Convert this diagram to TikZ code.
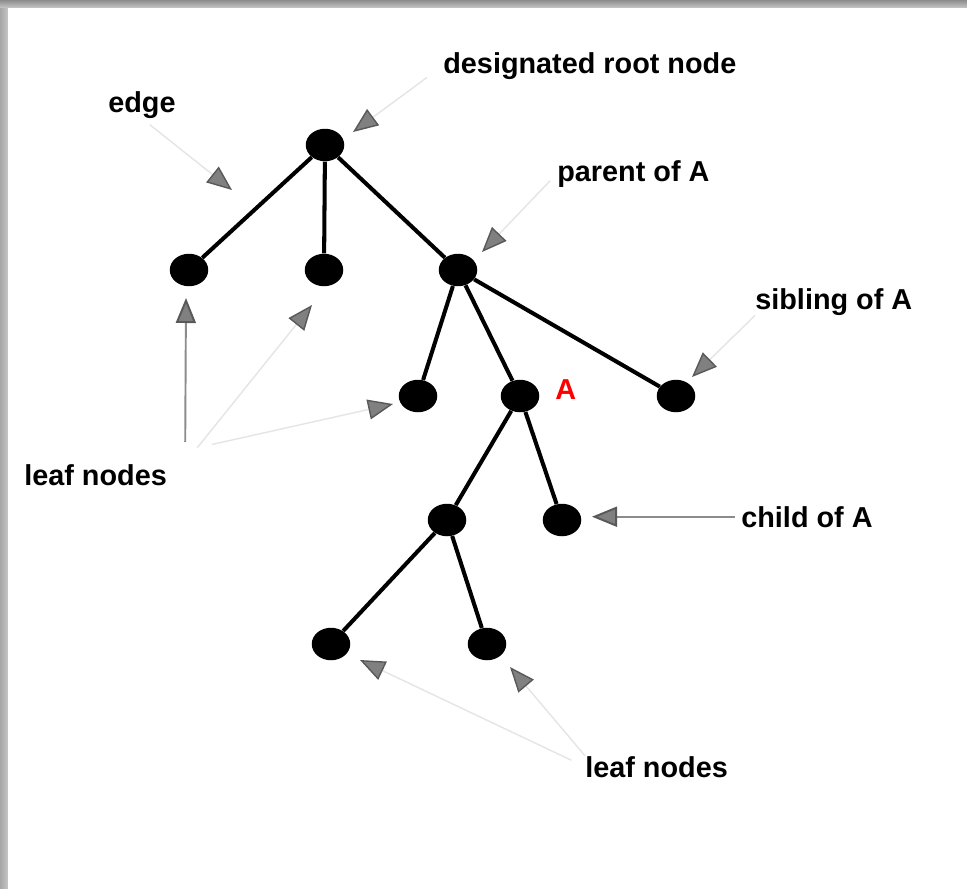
\documentclass[tikz,border=0pt]{standalone}
\usepackage{fontspec}
\setmainfont{Liberation Sans}
\usepackage{xcolor}
\usepackage{tikz}
\usetikzlibrary{arrows.meta}
\usetikzlibrary{shapes.geometric}
\usetikzlibrary{calc}

\tikzset{
	vertex/.style={ellipse,fill=black,inner sep=0pt,minimum width=0.77cm,minimum height=0.65cm},
	branch/.style={line width=2.3pt,black},
	note/.style={font=\fontsize{16.4}{19}\selectfont\bfseries,inner sep=0pt,anchor=base west},
	pointer/.style={draw=black!10,line width=0.8pt,-{Triangle[length=0.5cm,width=0.4cm,fill=black!50,color=black!65]}},
	strongpointer/.style={pointer,draw=black!45,line width=1.1pt}
}

\begin{document}
\begin{tikzpicture}[x=0.02cm,y=-0.02cm]
		\useasboundingbox (0,0) rectangle (967,889);
		\shade[top color=black!45,bottom color=black!22] (0,0) rectangle (967,8);
		\shade[left color=black!35,right color=black!22] (0,8) rectangle (8,889);
		\fill[white] (8,8) rectangle (967,889);
		% the tree
		\node[vertex] (root) at (325,145) {};
		\node[vertex] (leftleaf) at (189,270) {};
		\node[vertex] (midleaf) at (324,270) {};
		\node[vertex] (parent) at (458,270) {};
		\node[vertex] (leafc) at (418,396) {};
		\node[vertex] (A) at (520,396) {};
		\node[vertex] (sibling) at (676,396) {};
		\node[vertex] (childl) at (447,520) {};
		\node[vertex] (childr) at (562,520) {};
		\node[vertex] (leafl) at (331,644) {};
		\node[vertex] (leafr) at (487,644) {};
		\draw[branch] (root) -- (leftleaf);
		\draw[branch] (root) -- (midleaf);
		\draw[branch] (root) -- (parent);
		\draw[branch] (parent) -- (leafc);
		\draw[branch] (parent) -- (A);
		\draw[branch] (parent) -- (sibling);
		\draw[branch] (A) -- (childl);
		\draw[branch] (A) -- (childr);
		\draw[branch] (childl) -- (leafl);
		\draw[branch] (childl) -- (leafr);
		% labels
		\node[note] (rootnote) at (443,73) {designated root node};
		\node[note] (edgenote) at (108,112) {edge};
		\node[note] (parentnote) at (557,181) {parent of A};
		\node[note] (siblingnote) at (755,309) {sibling of A};
		\node[note,text=red] (Anote) at (555,399) {A};
		\node[note] (leafnote) at (24,485) {leaf nodes};
		\node[note] (childnote) at (741,527) {child of A};
		\node[note] (leafnotes) at (585,777) {leaf nodes};
		% arrow tips
		\coordinate (roottip) at (353,132);
		\coordinate (edgetip) at (232,190);
		\coordinate (parenttip) at (482,252);
		\coordinate (siblingtip) at (692,377);
		\coordinate (lefttip) at (186,298);
		\coordinate (midtip) at (312,305);
		\coordinate (leafctip) at (393,404);
		\coordinate (childtip) at (childnote.west -| 592,0);
		\coordinate (leafltip) at (360,660);
		\coordinate (leafrtip) at (510,667);
		\coordinate (lefthub) at ($(leafnote.north east)+(18,-22)$);
		\coordinate (hub) at ($(leafnote.north east)+(30,-16)$);
		\draw[pointer,shorten <=0.4cm] (rootnote.west) -- (roottip);
		\draw[pointer,shorten <=0.2cm] (edgenote.south) -- (edgetip);
		\draw[pointer,shorten <=0.2cm] (parentnote.west) -- (parenttip);
		\draw[pointer] (siblingnote.south west) -- (siblingtip);
		\draw[strongpointer] (lefthub) -- (lefttip);
		\draw[pointer] (hub) -- (midtip);
		\draw[pointer,shorten <=0.3cm] (hub) -- (leafctip);
		\draw[strongpointer,shorten <=0.12cm] (childnote.west) -- (childtip);
		\draw[pointer,shorten <=0.3cm] (leafnotes.west) -- (leafltip);
		\draw[pointer] (leafnotes.north west) -- (leafrtip);
	\end{tikzpicture}
\end{document}
